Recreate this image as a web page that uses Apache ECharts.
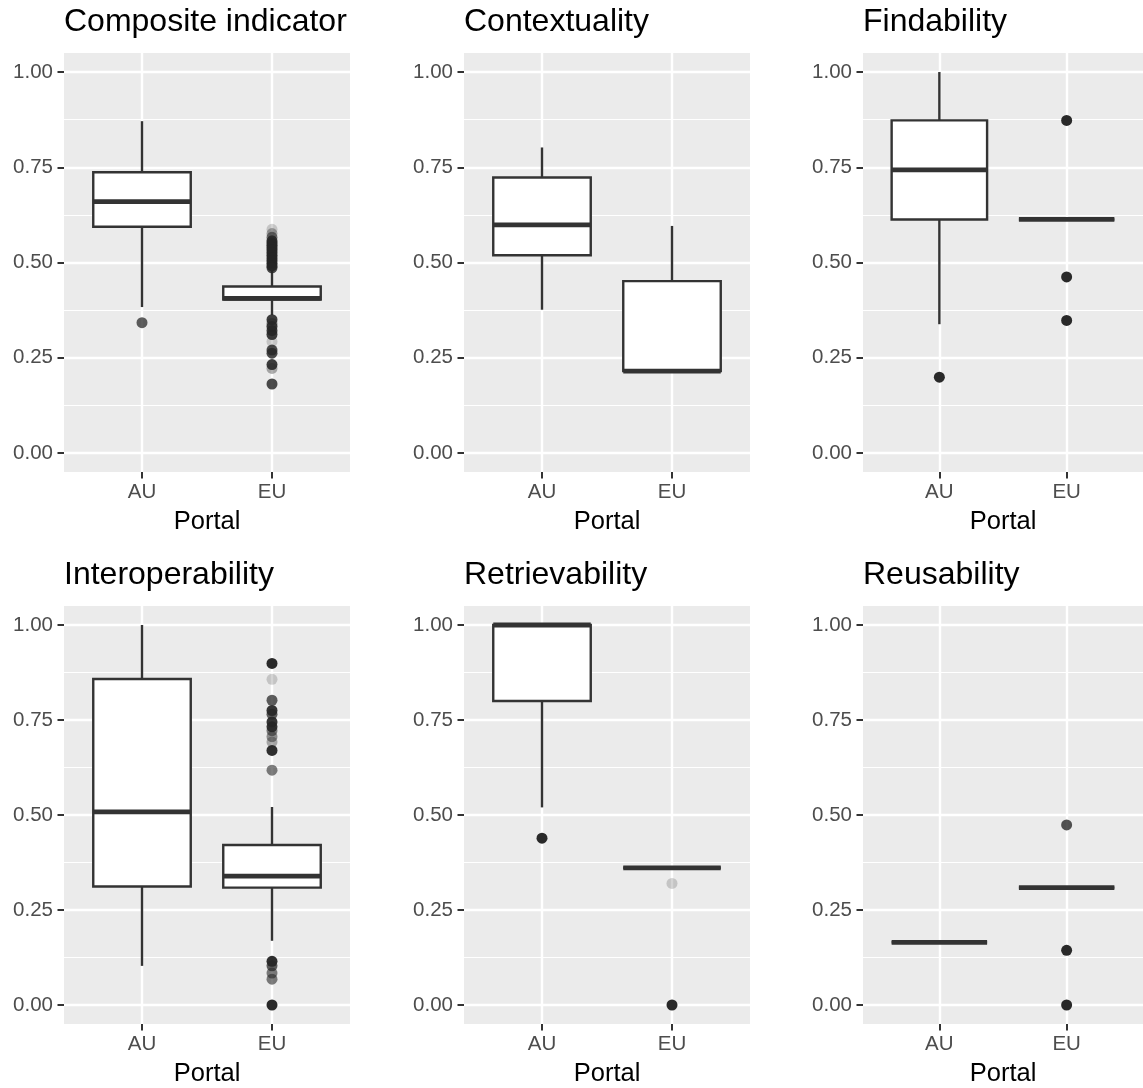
<!DOCTYPE html>
<html><head><meta charset="utf-8">
<script src="https://cdn.jsdelivr.net/npm/echarts@6/dist/echarts.min.js"></script>
<style>html,body{margin:0;padding:0;background:#fff}#c{width:1143px;height:1088px}</style>
</head><body><div id="c"></div>
<script>
// ---------------- data ----------------
const portals = ['AU', 'EU'];
const panelTitles = ['Composite indicator', 'Contextuality', 'Findability', 'Interoperability', 'Retrievability', 'Reusability'];
const xAxisTitle = 'Portal';
const yTickValues = [0, 0.25, 0.5, 0.75, 1];
const yMinorValues = [0.125, 0.375, 0.625, 0.875];

// box statistics per portal: [lower whisker, Q1, median, Q3, upper whisker]
const compositeBox       = [[0.383, 0.594, 0.660, 0.737, 0.871], [0.362, 0.403, 0.406, 0.437, 0.478]];
const contextualityBox   = [[0.376, 0.519, 0.599, 0.723, 0.802], [0.215, 0.215, 0.215, 0.451, 0.596]];
const findabilityBox     = [[0.338, 0.613, 0.743, 0.873, 1.000], [0.613, 0.613, 0.613, 0.613, 0.613]];
const interoperabilityBox= [[0.103, 0.312, 0.508, 0.858, 1.000], [0.169, 0.309, 0.339, 0.421, 0.521]];
const retrievabilityBox  = [[0.520, 0.800, 1.000, 1.000, 1.000], [0.361, 0.361, 0.361, 0.361, 0.361]];
const reusabilityBox     = [[0.165, 0.165, 0.165, 0.165, 0.165], [0.309, 0.309, 0.309, 0.309, 0.309]];

// outliers per portal: [value, approx. number of overlapping observations]
const compositeOut = [
  [[0.342, 6]],
  [[0.587, 1], [0.576, 2], [0.566, 4], [0.557, 10], [0.551, 12], [0.545, 12], [0.539, 12], [0.533, 12],
   [0.526, 12], [0.519, 12], [0.512, 12], [0.505, 12], [0.498, 12], [0.491, 12], [0.486, 8],
   [0.350, 10], [0.340, 3], [0.332, 10], [0.321, 10], [0.311, 10], [0.292, 1], [0.270, 8], [0.262, 8],
   [0.232, 10], [0.222, 2], [0.181, 8]]
];
const contextualityOut = [[], []];
const findabilityOut = [[[0.199, 20]], [[0.873, 20], [0.462, 20], [0.348, 20]]];
const interoperabilityOut = [
  [],
  [[0.899, 20], [0.857, 1], [0.802, 6], [0.775, 12], [0.765, 6], [0.745, 12], [0.732, 12], [0.722, 4],
   [0.706, 3], [0.692, 2], [0.670, 15], [0.618, 4],
   [0.115, 15], [0.103, 6], [0.084, 4], [0.068, 4], [0.000, 20]]
];
const retrievabilityOut = [[[0.439, 20]], [[0.320, 1], [0.000, 20]]];
const reusabilityOut = [[], [[0.474, 7], [0.144, 20], [0.000, 20]]];

const panelBoxes = [compositeBox, contextualityBox, findabilityBox, interoperabilityBox, retrievabilityBox, reusabilityBox];
const panelOutliers = [compositeOut, contextualityOut, findabilityOut, interoperabilityOut, retrievabilityOut, reusabilityOut];

// ---------------- layout / style ----------------
const FONT = '"Liberation Sans", Arial, Helvetica, sans-serif';
const colLeft = [64, 464, 863];
const rowTop = [53, 606];
const plotW = 286, plotH = 419;
const boxHalf = 0.375;
const lineCol = '#333333';
const alphaOne = 0.2;

const chart = echarts.init(document.getElementById('c'), null, {renderer: 'canvas'});

const grids = [], xAxes = [], yAxes = [], series = [], graphics = [];

panelTitles.forEach((t, i) => {
  const r = Math.floor(i / 3), c = i % 3;
  grids.push({left: colLeft[c], top: rowTop[r], width: plotW, height: plotH,
    show: true, backgroundColor: '#EBEBEB', borderWidth: 0, containLabel: false});
  xAxes.push({
    type: 'value', gridIndex: i, min: 0.4, max: 2.6, position: 'bottom',
    name: xAxisTitle, nameLocation: 'middle', nameGap: 37,
    nameTextStyle: {fontSize: 25.5, color: '#000', fontFamily: FONT},
    axisLine: {show: false, onZero: false},
    axisTick: {show: true, length: 6.5, customValues: [1, 2], lineStyle: {color: lineCol, width: 2}},
    axisLabel: {show: true, customValues: [1, 2], margin: 10, fontSize: 20.5, color: '#4D4D4D', fontFamily: FONT,
      formatter: v => portals[Math.round(v) - 1]},
    splitLine: {show: true, lineStyle: {color: '#FFFFFF', width: 2.4}}
  });
  // major y axis
  yAxes.push({
    type: 'value', gridIndex: i, min: -0.05, max: 1.05, position: 'left',
    axisLine: {show: false, onZero: false},
    axisTick: {show: true, length: 6.5, customValues: yTickValues, lineStyle: {color: lineCol, width: 2}},
    axisLabel: {show: true, customValues: yTickValues, margin: 11, fontSize: 20.5, color: '#4D4D4D', fontFamily: FONT,
      formatter: v => v.toFixed(2)},
    splitLine: {show: true, lineStyle: {color: '#FFFFFF', width: 2.4}}
  });
  // minor y axis (grid lines only)
  yAxes.push({
    type: 'value', gridIndex: i, min: -0.05, max: 1.05, position: 'left',
    axisLine: {show: false, onZero: false},
    axisTick: {show: false, customValues: yMinorValues},
    axisLabel: {show: false},
    splitLine: {show: true, lineStyle: {color: '#FFFFFF', width: 1.2}}
  });

  const boxes = panelBoxes[i];
  series.push({
    type: 'custom', xAxisIndex: i, yAxisIndex: 2 * i,
    data: boxes.map((b, k) => [k + 1].concat(b)),
    z: 3,
    renderItem: (params, api) => {
      const x = api.value(0), lo = api.value(1), q1 = api.value(2), med = api.value(3), q3 = api.value(4), hi = api.value(5);
      const tl = api.coord([x - boxHalf, q3]), br = api.coord([x + boxHalf, q1]);
      const pHi = api.coord([x, hi]), pQ3 = api.coord([x, q3]), pQ1 = api.coord([x, q1]), pLo = api.coord([x, lo]);
      const mL = api.coord([x - boxHalf, med]), mR = api.coord([x + boxHalf, med]);
      return {type: 'group', children: [
        {type: 'line', shape: {x1: pHi[0], y1: pHi[1], x2: pQ3[0], y2: pQ3[1]}, style: {stroke: lineCol, lineWidth: 2.4}},
        {type: 'line', shape: {x1: pQ1[0], y1: pQ1[1], x2: pLo[0], y2: pLo[1]}, style: {stroke: lineCol, lineWidth: 2.4}},
        {type: 'rect', shape: {x: tl[0], y: tl[1], width: br[0] - tl[0], height: br[1] - tl[1]},
          style: {fill: '#FFFFFF', stroke: lineCol, lineWidth: 2.4}},
        {type: 'line', shape: {x1: mL[0], y1: mL[1], x2: mR[0], y2: mR[1]}, style: {stroke: lineCol, lineWidth: 4.8}}
      ]};
    }
  });

  const outs = panelOutliers[i];
  const pts = [];
  outs.forEach((list, k) => list.forEach(o => {
    pts.push({value: [k + 1, o[0]], itemStyle: {opacity: 1 - Math.pow(1 - alphaOne, o[1])}});
  }));
  series.push({
    type: 'scatter', xAxisIndex: i, yAxisIndex: 2 * i, z: 4,
    symbol: 'circle', symbolSize: 11, silent: true,
    itemStyle: {color: '#262626'},
    data: pts
  });

  graphics.push({type: 'text', x: colLeft[c], y: rowTop[r] - 31,
    style: {text: t, fontSize: 32, fontFamily: FONT, fill: '#000000', align: 'left', verticalAlign: 'middle'}});
});

chart.setOption({
  animation: false,
  backgroundColor: '#FFFFFF',
  grid: grids, xAxis: xAxes, yAxis: yAxes, series: series, graphic: graphics
});
</script>
</body></html>
